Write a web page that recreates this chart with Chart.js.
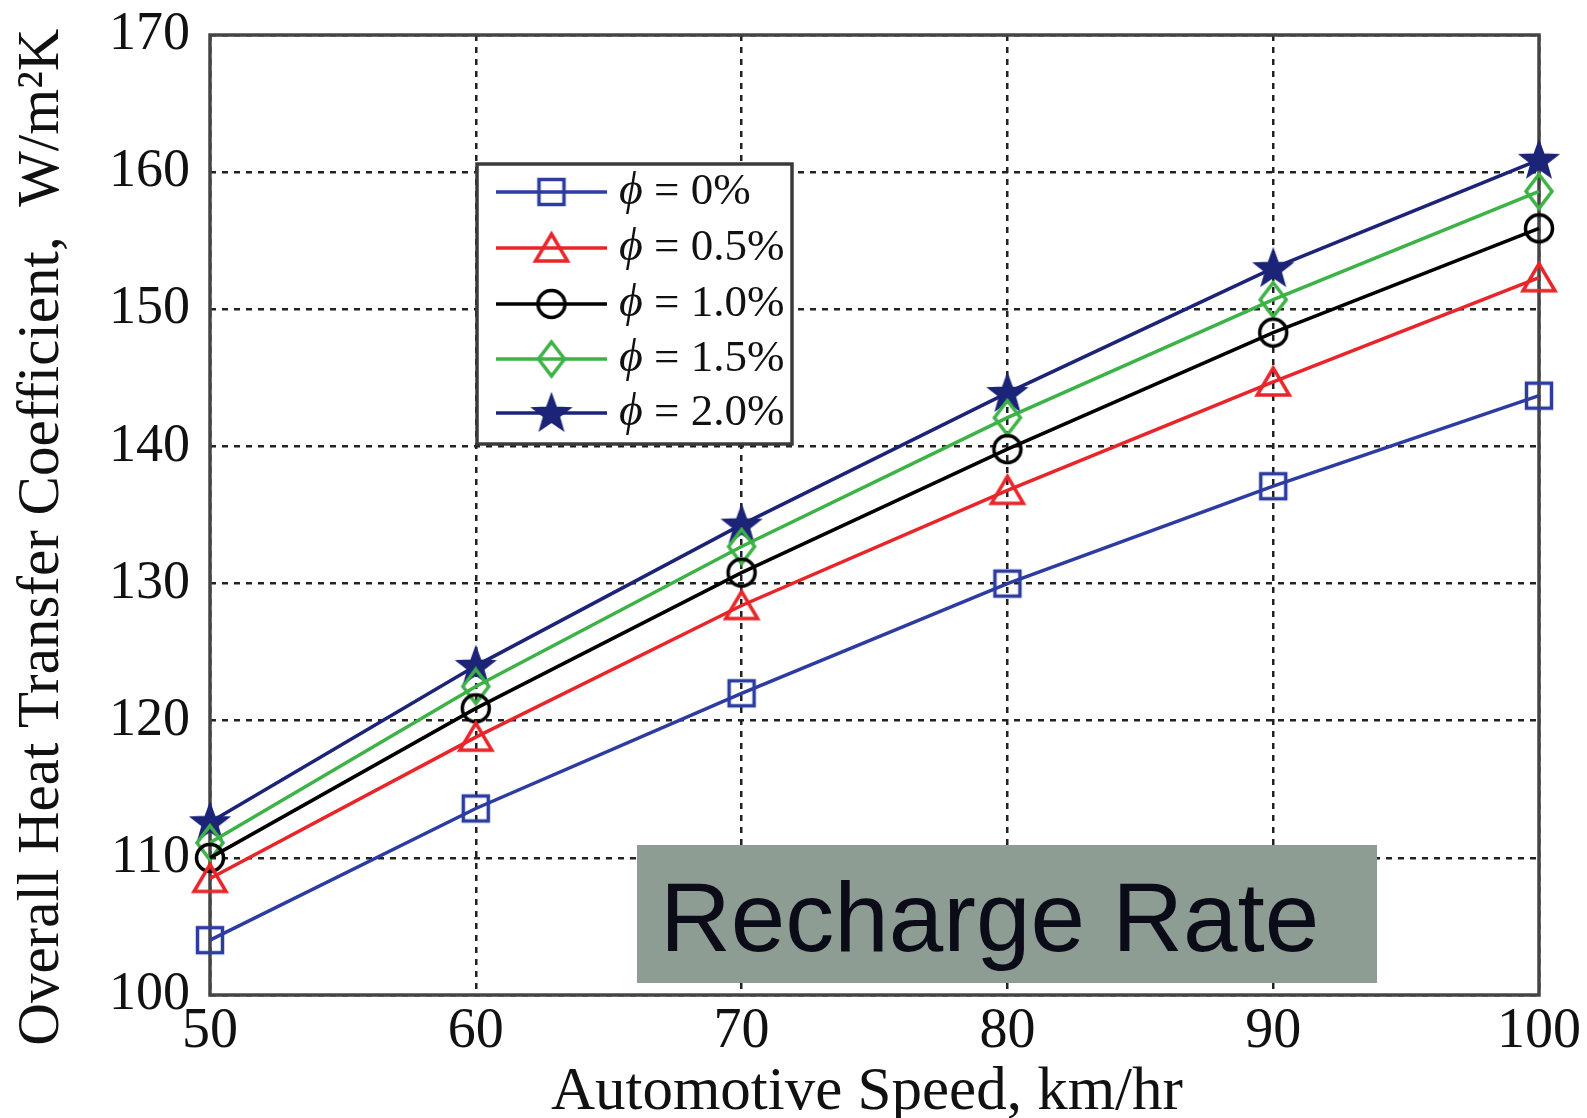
<!DOCTYPE html>
<html><head><meta charset="utf-8">
<script src="https://cdn.jsdelivr.net/npm/chart.js@4.4.0/dist/chart.umd.min.js"></script>
<style>html,body{margin:0;padding:0;background:#fff;}canvas{display:block;}</style>
</head><body>
<canvas id="c" width="1587" height="1118"></canvas>
<script>
// ---- data ----
const speeds = [50, 60, 70, 80, 90, 100];
const phi00 = [104.0, 113.6, 122.0, 130.0, 137.1, 143.7];
const phi05 = [108.5, 118.8, 128.4, 136.8, 144.7, 152.3];
const phi10 = [110.0, 120.9, 130.8, 139.8, 148.3, 155.9];
const phi15 = [111.1, 122.5, 132.7, 142.1, 150.7, 158.6];
const phi20 = [112.6, 124.0, 134.3, 143.9, 153.0, 160.9];
const seriesLabels = ['0%', '0.5%', '1.0%', '1.5%', '2.0%'];
const xTicks = [50, 60, 70, 80, 90, 100];
const yTicks = [100, 110, 120, 130, 140, 150, 160, 170];
const xTitle = 'Automotive Speed, km/hr\u00A0';
const yTitle = 'Overall Heat Transfer Coefficient,  W/m\u00B2K\u00A0\u00A0\u00A0';
const noteText = 'Recharge Rate';

// ---- styles ----
const colors = ['#2c3ca0', '#e8262a', '#000000', '#3db246', '#1c2478'];
function mk(w, h, draw) { const c = document.createElement('canvas'); c.width = w; c.height = h; const g = c.getContext('2d'); draw(g); return c; }
const MW = 3.5;
const markers = [
  mk(34, 34, g => { g.strokeStyle = colors[0]; g.lineWidth = MW; g.strokeRect(4.5, 4.5, 25, 25); }),
  mk(40, 36, g => { g.strokeStyle = colors[1]; g.lineWidth = MW; g.beginPath(); g.moveTo(20, 4); g.lineTo(36, 31); g.lineTo(4, 31); g.closePath(); g.stroke(); }),
  mk(34, 34, g => { g.strokeStyle = colors[2]; g.lineWidth = MW; g.beginPath(); g.arc(17, 17, 13.5, 0, Math.PI * 2); g.stroke(); }),
  mk(32, 40, g => { g.strokeStyle = colors[3]; g.lineWidth = MW; g.beginPath(); g.moveTo(16, 3); g.lineTo(29, 20); g.lineTo(16, 37); g.lineTo(3, 20); g.closePath(); g.stroke(); }),
  mk(44, 44, g => { g.fillStyle = colors[4]; g.strokeStyle = colors[4]; g.lineWidth = 1.5; g.beginPath();
    for (let i = 0; i < 10; i++) { const r = i % 2 ? 8.2 : 20; const a = -Math.PI / 2 + i * Math.PI / 5; const px = 22 + r * Math.cos(a), py = 23 + r * Math.sin(a); i ? g.lineTo(px, py) : g.moveTo(px, py); }
    g.closePath(); g.fill(); g.stroke(); })
];
const allSeries = [phi00, phi05, phi10, phi15, phi20];
const datasets = allSeries.map((vals, i) => ({
  label: '\u03D5 = ' + seriesLabels[i],
  data: speeds.map((x, j) => ({ x: x, y: vals[j] })),
  borderColor: colors[i], backgroundColor: colors[i], borderWidth: 3.5,
  pointStyle: markers[i], pointRadius: 15, clip: false, tension: 0
}));

const serif = '"Liberation Serif", "Times New Roman", serif';

const decor = {
  id: 'decor',
  beforeDatasetsDraw(chart) {
    const { ctx, chartArea: a } = chart;
    ctx.save(); ctx.strokeStyle = '#444'; ctx.lineWidth = 3.5;
    ctx.strokeRect(a.left, a.top, a.right - a.left, a.bottom - a.top);
    ctx.restore();
  },
  afterDraw(chart) {
    const ctx = chart.ctx;
    const L = { x: 477, y: 164, w: 315, h: 280, rows: [192, 248, 304, 359, 413], lx1: 496, lx2: 607, tx: 619 };
    ctx.save();
    ctx.fillStyle = '#fff'; ctx.fillRect(L.x, L.y, L.w, L.h);
    ctx.strokeStyle = '#3a3a3a'; ctx.lineWidth = 3.5; ctx.strokeRect(L.x, L.y, L.w, L.h);
    chart.data.datasets.forEach((ds, i) => {
      const y = L.rows[i];
      ctx.strokeStyle = ds.borderColor; ctx.lineWidth = 3.5;
      ctx.beginPath(); ctx.moveTo(L.lx1, y); ctx.lineTo(L.lx2, y); ctx.stroke();
      const m = ds.pointStyle; const cx = (L.lx1 + L.lx2) / 2;
      ctx.drawImage(m, cx - m.width / 2, y - m.height / 2);
      ctx.fillStyle = '#111'; ctx.textBaseline = 'middle';
      ctx.font = 'italic 46px ' + serif;
      ctx.fillText('\u03D5', L.tx, y);
      const w = ctx.measureText('\u03D5').width;
      ctx.font = '45px ' + serif;
      ctx.fillText(' = ' + seriesLabels[i], L.tx + w, y);
    });
    ctx.fillStyle = '#8e9d94'; ctx.fillRect(637, 845, 740, 138);
    ctx.fillStyle = '#0c0c18'; ctx.font = '98px "Liberation Sans", Arial, sans-serif';
    ctx.textBaseline = 'alphabetic'; ctx.fillText(noteText, 660, 951);
    ctx.restore();
  }
};

new Chart(document.getElementById('c'), {
  type: 'line',
  data: { datasets },
  options: {
    responsive: false, animation: false, devicePixelRatio: 1,
    layout: { padding: { top: 35, right: 48, bottom: 0, left: 0 } },
    plugins: { legend: { display: false }, tooltip: { enabled: false } },
    scales: {
      x: {
        type: 'linear', min: xTicks[0], max: xTicks[xTicks.length - 1],
        afterBuildTicks: s => { s.ticks = xTicks.map(v => ({ value: v })); },
        afterFit: s => { s.height = 123; s.paddingLeft = 0; s.paddingRight = 0; },
        ticks: { autoSkip: false, maxRotation: 0, padding: 4, color: '#111', font: { family: serif, size: 56 } },
        grid: { color: '#222', lineWidth: 2.5, drawTicks: false },
        border: { display: false, dash: [6, 6] },
        title: { display: true, text: xTitle, color: '#111', font: { family: serif, size: 61, lineHeight: 0.8 }, padding: { top: 0, bottom: 1 } }
      },
      y: {
        type: 'linear', min: yTicks[0], max: yTicks[yTicks.length - 1],
        afterBuildTicks: s => { s.ticks = yTicks.map(v => ({ value: v })); },
        afterFit: s => { s.width = 210; s.paddingTop = 0; s.paddingBottom = 0; },
        ticks: { autoSkip: false, padding: 20, color: '#111', font: { family: serif, size: 54 } },
        grid: { color: '#222', lineWidth: 2.5, drawTicks: false },
        border: { display: false, dash: [6, 6] },
        title: { display: true, text: yTitle, color: '#111', font: { family: serif, size: 59 }, padding: { top: 7, bottom: 0 } }
      }
    }
  },
  plugins: [decor]
});
</script>
</body></html>
